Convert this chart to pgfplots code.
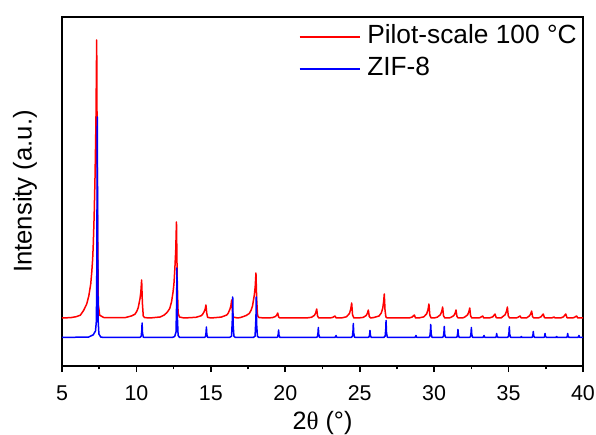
\documentclass[border=0pt]{standalone}
\usepackage{fontspec}
\setmainfont{Liberation Sans}
\newfontfamily\serifgr{Liberation Serif}
\usepackage{pgfplots}
\pgfplotsset{compat=1.18}
\begin{document}
\begin{tikzpicture}
\begin{axis}[
  scale only axis, width=260.5bp, height=174.5bp,
  xmin=5, xmax=40, ymin=0, ymax=349,
  xtick={5,10,15,20,25,30,35,40}, minor x tick num=1,
  ytick=\empty,
  xtick pos=left,
  tick align=outside,
  major tick length=3bp, minor tick length=1.7bp,
  every tick/.style={black, line width=0.8bp},
  axis line style={black, line width=0.9bp},
  /pgf/number format/assume math mode=true,
  tick label style={font=\fontsize{10.75}{12}\selectfont},
  xticklabel style={anchor=base, yshift=-14bp, inner sep=0pt},
  xlabel={2{\serifgr θ} (°)},
  ylabel={Intensity (a.u.)},
  every axis x label/.style={at={(axis description cs:0.5,0)}, anchor=base, yshift=-31.5bp, font=\fontsize{12.6}{15}\selectfont},
  every axis y label/.style={at={(axis description cs:0,0.5)}, xshift=-18.5bp, rotate=90, anchor=center, font=\fontsize{12.9}{15}\selectfont},
  legend style={at={(1,1)}, anchor=north east, draw=none, fill=none,
    font=\fontsize{13.2}{15}\selectfont, inner sep=0pt, row sep=3bp, column sep=3.5bp,
    nodes={inner sep=0pt, text height=10bp, text depth=3bp}, xshift=-3bp, yshift=-3.2bp},
  legend cell align=left,
  legend image code/.code={\draw[mark repeat=2,mark phase=2,#1] plot coordinates {(0bp,0bp) (15bp,0bp) (30bp,0bp)};},
  every axis plot/.append style={line width=0.75bp, line join=round},
]
\addplot[red] coordinates {
(5.0,48) (5.6,48.4) (5.95,49.3) (6.23,50.8) (6.45,55.5) (6.66,62) (6.80,70) (6.93,82) (7.00,94) (7.06,107) (7.10,121) (7.16,150) (7.22,189.8) (7.28,242.6) (7.305,284.3) (7.33,326) (7.38,159.2) (7.44,61.9) (7.53,50.8) (7.8,48.5)
(9.25,48.4) (9.68,50.1) (9.90,51.8) (10.02,54.5) (10.12,58.3) (10.24,67.4) (10.30,74.6) (10.325,80.3) (10.35,86) (10.40,63.2) (10.46,49.9) (10.55,48.4) (10.9,48)
(11.59,49) (11.85,50.8) (12.02,53) (12.13,55) (12.24,57.6) (12.36,64.3) (12.46,73.9) (12.52,82) (12.58,97) (12.64,115.2) (12.665,129.6) (12.69,144) (12.74,86.4) (12.80,52.8) (12.89,49) (13.2,48)
(14.0,48.7) (14.34,50.2) (14.44,51.5) (14.56,54.6) (14.62,57.1) (14.67,61) (14.72,53.2) (14.78,48.7) (15.0,48)
(15.7,48.9) (16.07,51) (16.17,52.9) (16.29,57.2) (16.35,60.6) (16.40,66) (16.45,55.2) (16.51,48.9) (16.8,48)
(17.0,48.5) (17.36,50.4) (17.58,52.5) (17.70,55.7) (17.80,60.2) (17.92,71) (17.98,79.5) (18.005,86.3) (18.03,93) (18.08,66) (18.14,50.3) (18.23,48.5) (18.6,48)
(18.8,48) (19.14,48.4) (19.34,49.5) (19.43,51) (19.49,53) (19.55,49) (19.64,48)
(21.4,48) (21.76,48.7) (21.96,50.7) (22.05,53.4) (22.11,57) (22.17,49.8) (22.26,48)
(23.0,48) (23.19,48.6) (23.34,50) (23.42,48)
(23.76,48) (24.11,49.2) (24.31,52.5) (24.40,57) (24.46,63) (24.52,51) (24.61,48)
(24.9,48) (25.23,48.6) (25.43,50.4) (25.52,52.8) (25.58,56) (25.64,49.6) (25.73,48)
(25.95,48.5) (26.30,50) (26.45,53) (26.55,58) (26.61,64.8) (26.65,72) (26.70,56) (26.76,49) (26.85,48)
(28.3,48) (28.52,48.9) (28.67,51) (28.75,48)
(28.95,48) (29.30,49.1) (29.50,52.2) (29.59,56.4) (29.65,62) (29.71,50.8) (29.80,48)
(30.0,48) (30.22,48.9) (30.42,51.3) (30.51,54.6) (30.57,59) (30.63,50.2) (30.72,48)
(31.0,48) (31.12,48.6) (31.32,50.4) (31.41,52.8) (31.47,56) (31.53,49.6) (31.62,48)
(31.9,48) (32.04,48.8) (32.24,51) (32.33,54) (32.39,58) (32.45,50) (32.54,48)
(33.0,48) (33.11,48.6) (33.26,50) (33.34,48)
(33.7,48) (33.94,49.2) (34.09,52) (34.17,48.4) (34.25,48)
(34.5,48) (34.57,48.9) (34.77,51.3) (34.86,54.6) (34.92,59) (34.98,50.2) (35.07,48)
(35.5,48) (35.62,48.6) (35.77,50) (35.85,48)
(36.2,48) (36.40,50.1) (36.49,52.2) (36.55,55) (36.61,49.4) (36.70,48)
(37.0,48) (37.18,49.2) (37.33,52) (37.41,48.4) (37.5,48)
(37.9,48) (38.05,49) (38.13,48)
(38.5,48) (38.69,49.2) (38.84,52) (38.92,48.4) (39.0,48)
(39.3,48) (39.42,48.6) (39.57,50) (39.65,48) (40,48)
};
\addlegendentry{Pilot-scale 100 °C}
\addplot[blue] coordinates {
(5,28.5) (6.8,29) (7.10,31.2) (7.25,35) (7.31,45) (7.34,100) (7.37,249) (7.40,110) (7.43,45) (7.48,32) (7.6,29) (7.8,28.5)
(10.23,28.5) (10.32,29.7) (10.36,35.8) (10.38,43) (10.41,32.9) (10.46,28.9) (10.53,28.5)
(12.4,28.5) (12.57,29.5) (12.66,34) (12.70,63) (12.72,98) (12.75,49.4) (12.80,30.6) (12.9,28.5)
(14.55,28.5) (14.64,29.3) (14.68,33.8) (14.70,39) (14.73,31.7) (14.78,28.8) (14.85,28.5)
(16.25,28.5) (16.39,29.8) (16.45,48.8) (16.47,69) (16.50,40.7) (16.55,29.7) (16.65,28.5)
(17.85,28.5) (17.97,29.8) (18.03,48.8) (18.05,69) (18.08,40.7) (18.13,29.7) (18.23,28.5)
(19.40,28.5) (19.49,29.1) (19.53,32.3) (19.55,36) (19.58,30.8) (19.63,28.7) (19.70,28.5)
(22.07,28.5) (22.16,29.3) (22.20,33.5) (22.22,38.5) (22.25,31.5) (22.30,28.8) (22.37,28.5)
(23.33,28.5) (23.39,29.5) (23.41,30.5) (23.44,29) (23.50,28.5)
(24.42,28.5) (24.51,29.6) (24.55,35.5) (24.57,42.5) (24.60,32.7) (24.65,28.9) (24.72,28.5)
(25.54,28.5) (25.63,29.1) (25.67,32) (25.69,35.5) (25.72,30.6) (25.77,28.7) (25.84,28.5)
(26.62,28.5) (26.71,29.9) (26.75,37) (26.77,45.5) (26.80,33.6) (26.85,29) (26.92,28.5)
(28.70,28.5) (28.76,29.5) (28.78,30.5) (28.81,29) (28.87,28.5)
(29.62,28.5) (29.71,29.5) (29.75,35) (29.77,41.5) (29.80,32.4) (29.85,28.9) (29.92,28.5)
(30.53,28.5) (30.62,29.4) (30.66,34) (30.68,39.5) (30.71,31.8) (30.76,28.8) (30.83,28.5)
(31.45,28.5) (31.54,29.1) (31.58,32.5) (31.60,36.5) (31.63,30.9) (31.68,28.7) (31.75,28.5)
(32.35,28.5) (32.44,29.3) (32.48,33.5) (32.50,38.5) (32.53,31.5) (32.58,28.8) (32.65,28.5)
(33.27,28.5) (33.33,29.5) (33.35,30.5) (33.38,29) (33.44,28.5)
(34.10,28.5) (34.16,29) (34.18,30.5) (34.20,32.5) (34.23,29.7) (34.30,28.5)
(34.90,28.5) (34.99,29.4) (35.03,33.8) (35.05,39.2) (35.08,31.7) (35.13,28.8) (35.20,28.5)
(35.80,28.5) (35.86,29.5) (35.90,28.5)
(36.51,28.5) (36.60,29) (36.64,31.5) (36.66,34.5) (36.69,30.3) (36.74,28.7) (36.81,28.5)
(37.35,28.5) (37.41,29) (37.43,30.5) (37.45,32.5) (37.48,29.7) (37.55,28.5)
(38.17,28.5) (38.23,29.5) (38.27,28.5)
(38.87,28.5) (38.93,29) (38.95,30.5) (38.97,32.5) (39.00,29.7) (39.07,28.5)
(39.65,28.5) (39.71,29.5) (39.73,30.5) (39.76,29) (39.82,28.5) (40,28.5)
};
\addlegendentry{ZIF-8}
\end{axis}
\pgfresetboundingbox
\path[use as bounding box] ([xshift=-31bp,yshift=-34.5bp]current axis.south west) rectangle ([xshift=6.5bp,yshift=8.5bp]current axis.north east);
\end{tikzpicture}
\end{document}
